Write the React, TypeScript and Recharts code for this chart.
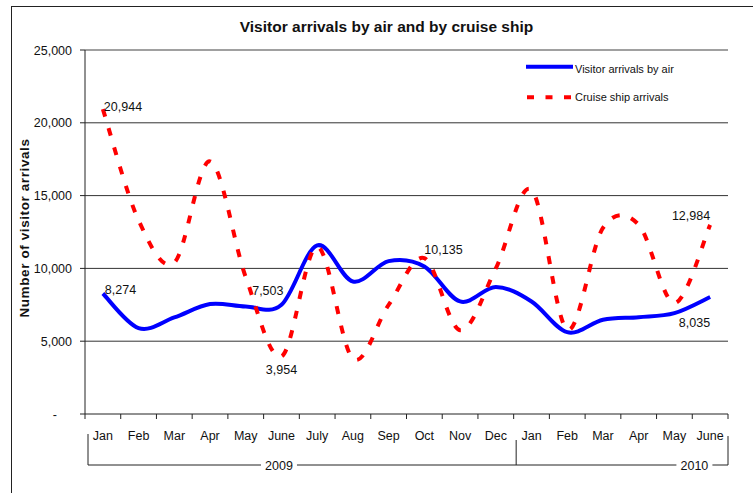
import { LineChart, Line, XAxis, YAxis, CartesianGrid, ReferenceLine, Legend } from 'recharts';

const months = ['Jan', 'Feb', 'Mar', 'Apr', 'May', 'June', 'July', 'Aug', 'Sep', 'Oct', 'Nov', 'Dec', 'Jan', 'Feb', 'Mar', 'Apr', 'May', 'June'];
const airArrivals = [8274, 5900, 6630, 7550, 7380, 7503, 11580, 9100, 10500, 10135, 7730, 8720, 7730, 5620, 6470, 6650, 6930, 8035];
const cruiseArrivals = [20944, 13300, 10400, 17350, 9400, 3954, 11500, 3800, 7500, 10700, 5750, 10000, 15400, 5800, 12780, 13000, 7620, 12984];
const yearLabels = ['2009', '2010'];
const yearMonthCounts = [12, 6];
const yTicks = [0, 5000, 10000, 15000, 20000, 25000];

const data = months.map((m, i) => ({ month: m, air: airArrivals[i], cruise: cruiseArrivals[i] }));

const FONT = '"Liberation Sans", Arial, sans-serif';
const W = 753;
const H = 493;
const M = { top: 50, right: 25, bottom: 0, left: 0 };
const Y_AXIS_W = 85;
const X_AXIS_H = 79;
const PLOT_W = W - M.left - M.right - Y_AXIS_W;
const BAND = PLOT_W / months.length;

// where the year labels sit, in category units from the left edge of the plot
const yearLabelAt = [5.43, 17.06];

// which points carry a value label, and where it goes
const airLabels: Record<number, { dx: number; dy: number; anchor: string }> = {
  0: { dx: 2, dy: 0, anchor: 'start' },
  5: { dx: 2, dy: -10, anchor: 'end' },
  9: { dx: 0, dy: -12, anchor: 'start' },
  17: { dx: 0, dy: 30, anchor: 'end' },
};
const cruiseLabels: Record<number, { dx: number; dy: number; anchor: string }> = {
  0: { dx: 1, dy: 1.5, anchor: 'start' },
  5: { dx: 0, dy: 17.5, anchor: 'middle' },
  17: { dx: 0, dy: -4.5, anchor: 'end' },
};

const fmt = (v: number) => v.toLocaleString('en-US');

// Excel style smoothed line: bezier through every point, tension 1/6
const excelSmooth = (context: any) => {
  let pts: number[][] = [];
  return {
    areaStart() {},
    areaEnd() {},
    lineStart() {
      pts = [];
    },
    point(x: number, y: number) {
      pts.push([+x, +y]);
    },
    lineEnd() {
      const n = pts.length;
      if (!n) return;
      context.moveTo(pts[0][0], pts[0][1]);
      for (let i = 0; i < n - 1; i++) {
        const p0 = pts[Math.max(i - 1, 0)];
        const p1 = pts[i];
        const p2 = pts[i + 1];
        const p3 = pts[Math.min(i + 2, n - 1)];
        context.bezierCurveTo(
          p1[0] + (p2[0] - p0[0]) / 6,
          p1[1] + (p2[1] - p0[1]) / 6,
          p2[0] - (p3[0] - p1[0]) / 6,
          p2[1] - (p3[1] - p1[1]) / 6,
          p2[0],
          p2[1]
        );
      }
    },
  };
};

const makeDot = (cfgs: Record<number, { dx: number; dy: number; anchor: string }>, key: string) => (props: any) => {
  const { cx, cy, index, value, payload } = props;
  const c = cfgs[index];
  if (!c) return <g key={`${key}-${index}`} />;
  const v = typeof value === 'number' ? value : payload[key];
  return (
    <text key={`${key}-${index}`} x={cx + c.dx} y={cy + c.dy} textAnchor={c.anchor} fontSize={12.5} fontFamily={FONT} fill="#111">
      {fmt(v)}
    </text>
  );
};

function YearBracket({ left, y }: { left: number; y: number }) {
  const yb = y + 51;
  const bx = (k: number) => left + k * BAND;
  const parts: any[] = [];
  parts.push(<line key="v0" x1={bx(0) + 3} x2={bx(0) + 3} y1={y + 20} y2={yb} stroke="#222" />);
  let start = 0;
  yearMonthCounts.forEach((count, g) => {
    const end = start + count;
    const last = g === yearMonthCounts.length - 1;
    const vx = last ? bx(end) : bx(end) + 2.5;
    parts.push(<line key={`v${g + 1}`} x1={vx} x2={vx} y1={y + (last ? 22 : 26)} y2={yb} stroke="#222" />);
    start = end;
  });
  let a = bx(0) + 3;
  yearLabels.forEach((lab, g) => {
    const cx = bx(yearLabelAt[g]);
    parts.push(<line key={`h${g}`} x1={a} x2={cx - 18} y1={yb} y2={yb} stroke="#222" />);
    parts.push(
      <text key={`t${g}`} x={cx} y={yb + 5} textAnchor="middle" fontSize={12.5} fontFamily={FONT} fill="#111">
        {lab}
      </text>
    );
    a = cx + 18;
  });
  parts.push(<line key="hend" x1={a} x2={bx(months.length)} y1={yb} y2={yb} stroke="#222" />);
  return <g>{parts}</g>;
}

function MonthTick(props: any) {
  const { x, y, index, payload } = props;
  const left = x - BAND / 2;
  return (
    <g>
      <line x1={left} x2={left} y1={y} y2={y + 5} stroke="#222" />
      {index === months.length - 1 && <line x1={x + BAND / 2} x2={x + BAND / 2} y1={y} y2={y + 5} stroke="#222" />}
      <text x={x} y={y + 25.5} textAnchor="middle" fontSize={12.5} fontFamily={FONT} fill="#111">
        {payload.value}
      </text>
      {index === 0 && <YearBracket left={left} y={y} />}
    </g>
  );
}

function ValueTick(props: any) {
  const { x, y, payload } = props;
  const zero = payload.value === 0;
  return (
    <text x={zero ? x - 15 : x} y={y} dy="0.36em" textAnchor="end" fontSize={12.5} fontFamily={FONT} fill="#111">
      {zero ? '-' : fmt(payload.value)}
    </text>
  );
}

const renderLegend = () => (
  <div style={{ position: 'relative', width: 200, height: 60, fontFamily: FONT, fontSize: 11, color: '#111' }}>
    <svg width={52} height={60} style={{ position: 'absolute', left: 0, top: 0 }}>
      <line x1={2} x2={49} y1={9.7} y2={9.7} stroke="#0000ff" strokeWidth={4} />
      <line x1={3} x2={47} y1={40.3} y2={40.3} stroke="#ff0000" strokeWidth={4} strokeDasharray="7 11.5" />
    </svg>
    <div style={{ position: 'absolute', left: 51, top: 5.5, lineHeight: '13px', whiteSpace: 'nowrap' }}>Visitor arrivals by air</div>
    <div style={{ position: 'absolute', left: 51, top: 34, lineHeight: '13px', whiteSpace: 'nowrap' }}>Cruise ship arrivals</div>
  </div>
);

export default function App() {
  return (
    <div style={{ position: 'absolute', left: 0, top: 0, width: W, height: H, background: '#fff', overflow: 'hidden' }}>
      <div
        style={{
          position: 'absolute',
          left: 10.5,
          top: 5.5,
          width: W,
          height: H,
          borderLeft: '1.5px solid #222',
          borderTop: '1.5px solid #222',
        }}
      />
      <div
        style={{
          position: 'absolute',
          left: 10,
          top: 18.4,
          width: W,
          textAlign: 'center',
          fontFamily: FONT,
          fontWeight: 'bold',
          fontSize: 15.5,
          lineHeight: '18px',
          color: '#111',
        }}
      >
        Visitor arrivals by air and by cruise ship
      </div>
      <div style={{ position: 'absolute', left: 0, top: 0 }}>
        <LineChart width={W} height={H} data={data} margin={M}>
          <CartesianGrid horizontal vertical={false} horizontalValues={[5000, 10000, 15000, 20000]} stroke="#333" />
          <ReferenceLine y={25000} stroke="#808080" strokeWidth={1.5} ifOverflow="visible" />
          <XAxis
            dataKey="month"
            interval={0}
            padding={{ left: BAND / 2, right: BAND / 2 }}
            height={X_AXIS_H}
            tickLine={false}
            tickSize={0}
            tickMargin={0}
            axisLine={{ stroke: '#222' }}
            tick={<MonthTick />}
          />
          <YAxis
            width={Y_AXIS_W}
            domain={[0, 25000]}
            ticks={yTicks}
            interval={0}
            tickSize={5}
            tickMargin={8}
            tickLine={{ stroke: '#222' }}
            axisLine={{ stroke: '#222' }}
            tick={<ValueTick />}
            label={() => (
              <text
                x={29}
                y={228}
                transform="rotate(-90, 29, 228)"
                textAnchor="middle"
                fontFamily={FONT}
                fontWeight="bold"
                fontSize={13.5}
                letterSpacing={0.6}
                fill="#111"
              >
                Number of visitor arrivals
              </text>
            )}
          />
          <YAxis
            yAxisId="border"
            orientation="right"
            width={0}
            domain={[0, 25000]}
            tick={false}
            tickLine={false}
            axisLine={{ stroke: '#808080', strokeWidth: 1.5 }}
          />
          <Legend
            layout="vertical"
            align="center"
            verticalAlign="middle"
            content={renderLegend}
            wrapperStyle={{ left: 524, top: 57, width: 200, height: 60 }}
          />
          <Line
            dataKey="air"
            name="Visitor arrivals by air"
            type={excelSmooth as any}
            stroke="#0000ff"
            strokeWidth={4}
            dot={makeDot(airLabels, 'air')}
            activeDot={false}
            isAnimationActive={false}
          />
          <Line
            dataKey="cruise"
            name="Cruise ship arrivals"
            type={excelSmooth as any}
            stroke="#ff0000"
            strokeWidth={4}
            strokeDasharray="8 12"
            dot={makeDot(cruiseLabels, 'cruise')}
            activeDot={false}
            isAnimationActive={false}
          />
        </LineChart>
      </div>
    </div>
  );
}
